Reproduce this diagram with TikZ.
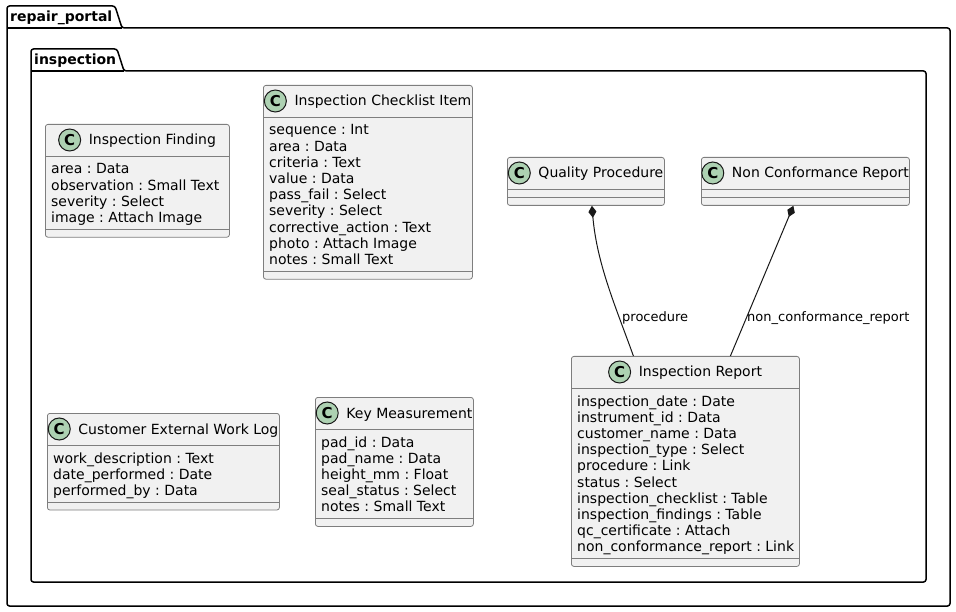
\documentclass[tikz,border=0pt]{standalone}
\usepackage{fontspec}
\setmainfont{DejaVu Sans}
\usetikzlibrary{arrows.meta,calc}

\definecolor{boxfill}{HTML}{F1F1F1}
\definecolor{boxline}{HTML}{7E7E7E}
\definecolor{inkline}{HTML}{181818}
\definecolor{spotfill}{HTML}{ADD1B2}

\tikzset{
  classbox/.style={draw=boxline, line width=0.8pt, fill=boxfill, rounded corners=2.5pt,
    inner sep=0pt, anchor=north west},
  divider/.style={draw=boxline, line width=0.8pt},
  classtitle/.style={inner sep=0pt, font=\fontsize{14}{16.2}\selectfont, anchor=base},
  attr/.style={inner sep=0pt, font=\fontsize{14}{16.2}\selectfont\frenchspacing, anchor=base west},
  spot/.style={circle, draw=inkline, line width=1pt, fill=spotfill, minimum size=22pt,
    inner sep=0pt, font=\fontsize{15}{15}\bfseries\selectfont},
  pkgframe/.style={draw=black, line width=1.5pt, rounded corners=2.5pt},
  pkgname/.style={inner sep=0pt, anchor=base west, font=\fontsize{14}{16}\bfseries\selectfont},
  link/.style={draw=inkline, line width=1pt},
  composite/.style={link, {Diamond[length=12pt,width=8pt]}-},
  linklabel/.style={inner sep=0pt, anchor=west, font=\fontsize{13}{15}\selectfont},
}

% UML class: id, left, top, width, number of attributes, title, attribute list
\newcommand\umlclass[7]{%
  \pgfmathsetmacro\clsH{48+#5*16.2}%
  \node[classbox, minimum width=#4pt, minimum height=\clsH pt] (#1) at (#2,#3) {};
  \draw[divider] ([yshift=-32pt]#1.north west) -- ([yshift=-32pt]#1.north east);
  \draw[divider] ([yshift=8pt]#1.south west) -- ([yshift=8pt]#1.south east);
  \node[classtitle] (#1-title) at ($(#1.north)+(0,21)$) {\hspace{30pt}#6};
  \node[spot] (#1-spot) at ($(#1-title.base west)+(11,-5)$) {C};
  \ifnum#5>0
    \foreach \attrtext [count=\i] in {#7} {
      \node[attr] (#1-a\i) at ($(#1.north west)+(6,{50+(\i-1)*16.2})$) {\attrtext};
    }
  \fi
}

\begin{document}
\frenchspacing
\begin{tikzpicture}[x=1pt, y=-1pt]
  \useasboundingbox (0,0) rectangle (956,612);

  % package repair_portal
  \draw[pkgframe] (7,28) -- (7,6) -- (115,6) -- (122,28) -- (950,28) -- (950,606) -- (7,606) -- cycle;
  \draw[pkgframe] (7,28) -- (122,28);
  \node[pkgname] (pkg-repair) at (10,22) {repair\_portal};

  % package inspection
  \draw[pkgframe] (31,71) -- (31,49) -- (117,49) -- (124,71) -- (926,71) -- (926,582) -- (31,582) -- cycle;
  \draw[pkgframe] (31,71) -- (124,71);
  \node[pkgname] (pkg-inspection) at (34,65) {inspection};

  % classes
  \umlclass{finding}{45}{124}{184}{4}{Inspection Finding}
    {area : Data, observation : Small Text, severity : Select, image : Attach Image}
  \umlclass{checklist}{263}{85}{209}{9}{Inspection Checklist Item}
    {sequence : Int, area : Data, criteria : Text, value : Data, pass\_fail : Select,
     severity : Select, corrective\_action : Text, photo : Attach Image, notes : Small Text}
  \umlclass{qp}{507}{157}{157}{0}{Quality Procedure}{}
  \umlclass{ncr}{701}{157}{208}{0}{Non Conformance Report}{}
  \umlclass{report}{571}{356}{228}{10}{Inspection Report}
    {inspection\_date : Date, instrument\_id : Data, customer\_name : Data,
     inspection\_type : Select, procedure : Link, status : Select,
     inspection\_checklist : Table, inspection\_findings : Table,
     qc\_certificate : Attach, non\_conformance\_report : Link}
  \umlclass{worklog}{47}{413}{232}{3}{Customer External Work Log}
    {work\_description : Text, date\_performed : Date, performed\_by : Data}
  \umlclass{keymeas}{315}{397}{158}{5}{Key Measurement}
    {pad\_id : Data, pad\_name : Data, height\_mm : Float, seal\_status : Select, notes : Small Text}

  % compositions
  \draw[composite] ([xshift=6pt]qp.south) .. controls (597,265) and (617,310) .. ([xshift=-52pt]report.north);
  \draw[composite] ([xshift=-12pt]ncr.south) -- ([xshift=45pt]report.north);
  \node[linklabel] (lbl-proc) at (622,318) {procedure};
  \node[linklabel] (lbl-ncr) at (747,318) {non\_conformance\_report};
\end{tikzpicture}
\end{document}
